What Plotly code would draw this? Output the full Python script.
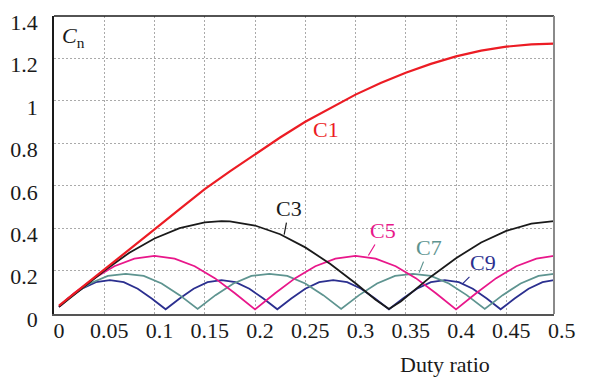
import plotly.graph_objects as go

# ---- data ----
duty_c1 = [0.005, 0.025, 0.05, 0.075, 0.1, 0.125, 0.15, 0.175, 0.2, 0.225, 0.25,
           0.275, 0.3, 0.325, 0.35, 0.375, 0.4, 0.425, 0.45, 0.475, 0.4975]
c1 = [0.035, 0.11, 0.205, 0.30, 0.395, 0.49, 0.585, 0.668, 0.75, 0.828, 0.902,
      0.968, 1.03, 1.085, 1.133, 1.175, 1.21, 1.237, 1.256, 1.267, 1.27]

duty_c3 = [0.005, 0.025, 0.05, 0.075, 0.1, 0.125, 0.15, 0.1667, 0.175, 0.2, 0.225,
           0.25, 0.275, 0.3, 0.32, 0.3333, 0.345, 0.375, 0.4, 0.425, 0.45, 0.475, 0.4975]
c3 = [0.03, 0.105, 0.20, 0.285, 0.352, 0.401, 0.428, 0.434, 0.433, 0.413, 0.372,
      0.31, 0.232, 0.141, 0.063, 0.02, 0.055, 0.172, 0.259, 0.333, 0.388, 0.422, 0.434]

duty_c5 = [0.005, 0.02, 0.04, 0.06, 0.08, 0.1, 0.12, 0.14, 0.16, 0.18, 0.2, 0.22, 0.24,
           0.26, 0.28, 0.3, 0.32, 0.34, 0.36, 0.38, 0.4, 0.42, 0.44, 0.46, 0.48, 0.4975]
c5 = [0.03, 0.094, 0.165, 0.221, 0.257, 0.27, 0.257, 0.221, 0.165, 0.094, 0.018, 0.094,
      0.165, 0.221, 0.257, 0.27, 0.257, 0.221, 0.165, 0.094, 0.018, 0.094, 0.165, 0.221,
      0.257, 0.27]

duty_c7 = [0.005, 0.0179, 0.0357, 0.0536, 0.0714, 0.0893, 0.1071, 0.125, 0.1429, 0.1607,
           0.1786, 0.1964, 0.2143, 0.2321, 0.25, 0.2679, 0.2857, 0.3036, 0.3214, 0.3393,
           0.3571, 0.375, 0.3929, 0.4107, 0.4286, 0.4464, 0.4643, 0.4821, 0.4975]
c7 = [0.03, 0.085, 0.14, 0.176, 0.185, 0.176, 0.14, 0.085, 0.02, 0.085, 0.14, 0.176,
      0.185, 0.176, 0.14, 0.085, 0.02, 0.085, 0.14, 0.176, 0.185, 0.176, 0.14, 0.085,
      0.02, 0.085, 0.14, 0.176, 0.185]

duty_c9 = [0.005, 0.0139, 0.0278, 0.0417, 0.0556, 0.0694, 0.0833, 0.0972, 0.1111, 0.125,
           0.1389, 0.1528, 0.1667, 0.1806, 0.1944, 0.2083, 0.2222, 0.2361, 0.25, 0.2639,
           0.2778, 0.2917, 0.3056, 0.3194, 0.3333, 0.3472, 0.3611, 0.375, 0.3889, 0.4028,
           0.4167, 0.4306, 0.4444, 0.4583, 0.4722, 0.4861, 0.4975]
c9 = [0.03, 0.069, 0.115, 0.146, 0.156, 0.146, 0.115, 0.069, 0.018, 0.069, 0.115, 0.146,
      0.156, 0.146, 0.115, 0.069, 0.018, 0.069, 0.115, 0.146, 0.156, 0.146, 0.115, 0.069,
      0.018, 0.069, 0.115, 0.146, 0.156, 0.146, 0.115, 0.069, 0.018, 0.069, 0.115, 0.146,
      0.156]

x_ticks = [0, 0.05, 0.1, 0.15, 0.2, 0.25, 0.3, 0.35, 0.4, 0.45]
x_tick_text = ["0", "0.05", "0.1", "0.15", "0.2", "0.25", "0.3", "0.35", "0.4", "0.45"]
x_last_tick = "0.5"
y_ticks = [0, 0.2, 0.4, 0.6, 0.8, 1.0, 1.2, 1.4]
y_tick_text = ["0", "0.2", "0.4", "0.6", "0.8", "1", "1.2", "1.4"]

FONT = "Liberation Serif, Times New Roman, serif"
FS = 22

fig = go.Figure()
series = [
    (duty_c9, c9, "#2b2f8f", 1.8),
    (duty_c7, c7, "#5e9490", 1.8),
    (duty_c5, c5, "#e8178a", 1.8),
    (duty_c3, c3, "#1a1a1a", 1.8),
    (duty_c1, c1, "#ec1c24", 2.2),
]
for xs, ys, col, w in series:
    fig.add_trace(go.Scatter(x=xs, y=ys, mode="lines",
                             line=dict(color=col, width=w), showlegend=False,
                             hoverinfo="skip"))

ann = [
    dict(x=0.229, y=0.37, text="C3", color="#1a1a1a", ax=5, ay=-26),
    dict(x=0.3128, y=0.272, text="C5", color="#e8178a", ax=15, ay=-25),
    dict(x=0.3633, y=0.191, text="C7", color="#5e9490", ax=10, ay=-25),
    dict(x=0.4064, y=0.138, text="C9", color="#2b2f8f", ax=21, ay=-21),
]
for a in ann:
    fig.add_annotation(x=a["x"], y=a["y"], text=a["text"], showarrow=True,
                       arrowhead=0, arrowwidth=1.2, arrowcolor=a["color"],
                       ax=a["ax"], ay=a["ay"], font=dict(family=FONT, size=FS, color=a["color"]))

fig.add_annotation(x=0.2707, y=0.864, text="C1", showarrow=False,
                   font=dict(family=FONT, size=FS, color="#ec1c24"))
fig.add_annotation(x=0.0195, y=1.30, text="<i>C</i><sub>n</sub>", showarrow=False,
                   font=dict(family=FONT, size=FS, color="#1a1a1a"))
fig.add_annotation(xref="paper", yref="paper", x=0.782, y=-0.168, text="Duty ratio",
                   showarrow=False, xanchor="center", yanchor="middle",
                   font=dict(family=FONT, size=FS, color="#1a1a1a"))
# last x tick label sits just past the plotted range
fig.add_annotation(xref="paper", yref="paper", x=1.0, y=-0.055, text=x_last_tick,
                   showarrow=False, xanchor="center", xshift=8, yanchor="middle",
                   font=dict(family=FONT, size=FS, color="#1a1a1a"))

# top and right frame lines
fig.add_shape(type="line", xref="paper", yref="paper", x0=0, x1=1, y0=1, y1=1,
              line=dict(color="#1a1a1a", width=1.5))
fig.add_shape(type="line", xref="paper", yref="paper", x0=1, x1=1, y0=0, y1=1,
              line=dict(color="#8a8a8a", width=2))

fig.update_layout(
    width=591, height=378,
    margin=dict(l=49, r=37, t=10, b=64),
    paper_bgcolor="white", plot_bgcolor="white",
    font=dict(family=FONT, size=FS, color="#1a1a1a"),
    xaxis=dict(range=[0, 0.4975], tickvals=x_ticks, ticktext=x_tick_text,
               showgrid=True, gridcolor="#aaaaaa", gridwidth=1, griddash="2px,2px",
               showline=True, linecolor="#555555", linewidth=1.5, ticks="",
               zeroline=False, ticklabelshift=5, ticklabelstandoff=-4),
    yaxis=dict(range=[-0.004, 1.4005], tickvals=y_ticks, ticktext=y_tick_text,
               showgrid=True, gridcolor="#aaaaaa", gridwidth=1, griddash="2px,2px",
               showline=True, linecolor="#1a1a1a", linewidth=1.5, ticks="",
               zeroline=False, ticklabelshift=6, ticklabelstandoff=10),
)

fig.write_html("out.html", config={"displayModeBar": False},
               post_script="document.body.style.margin='0';document.body.style.padding='0';")
